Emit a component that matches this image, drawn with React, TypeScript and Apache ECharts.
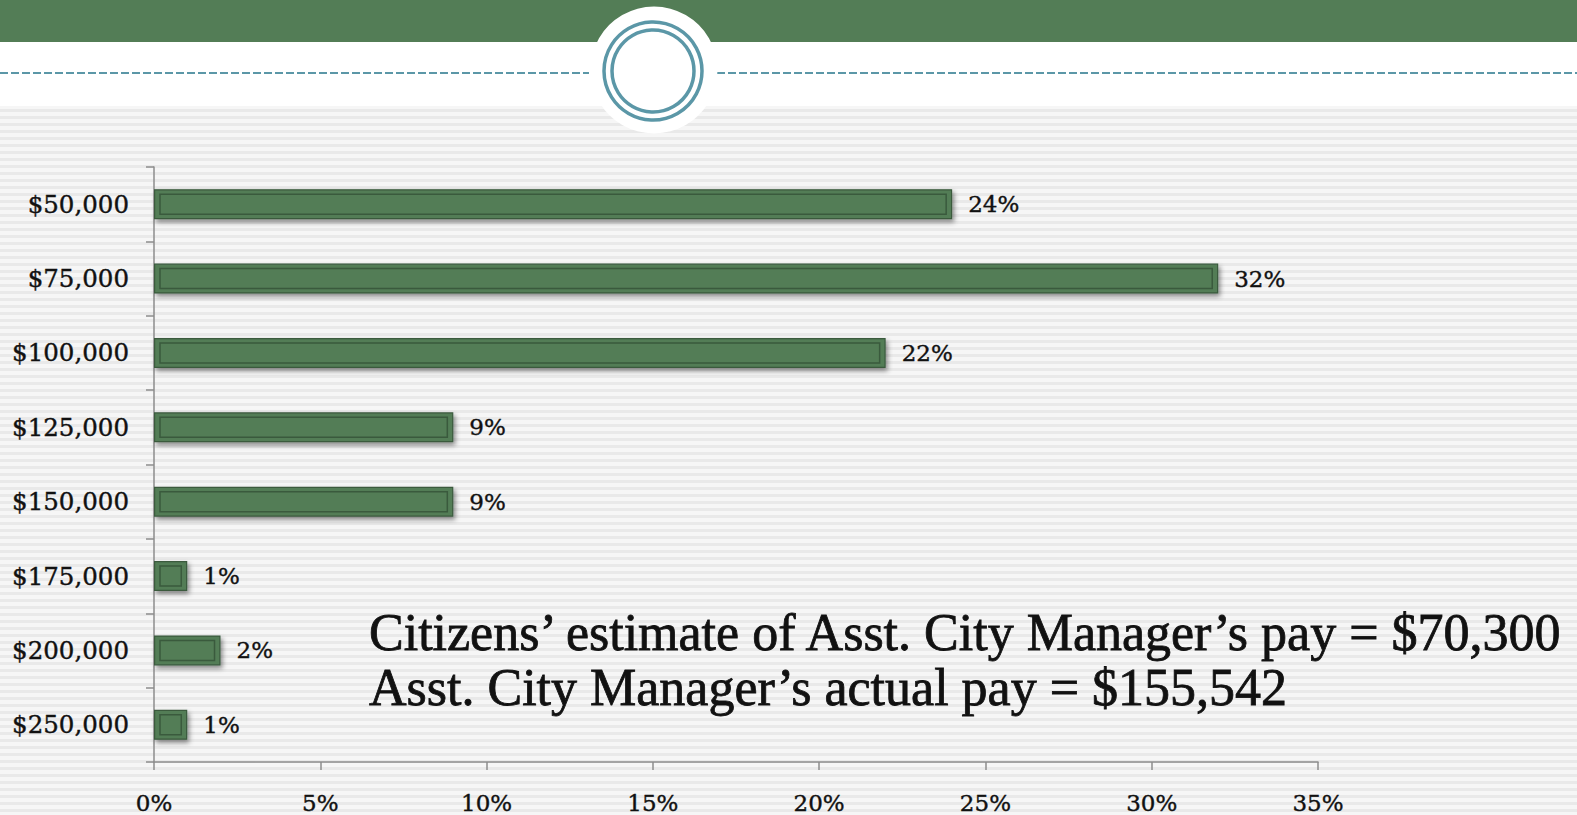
import React, { useEffect, useRef } from "react";
import * as echarts from "echarts";

const categories = ["$50,000", "$75,000", "$100,000", "$125,000", "$150,000", "$175,000", "$200,000", "$250,000"];
const values = [24, 32, 22, 9, 9, 1, 2, 1];
const xTicks = { min: 0, max: 35, interval: 5 };
const noteLines = [
  "Citizens\u2019 estimate of Asst. City Manager\u2019s pay = $70,300",
  "Asst. City Manager\u2019s actual pay = $155,542",
];

const W = 1577;
const H = 815;
const GREEN = "#537d56";
const DARK = "#3a5a3d";
const TEAL = "#5b97a7";
const AXIS = "#8c8c8c";
const SERIF = "'DejaVu Serif', serif";
const INK = "#111";

export default function App() {
  const ref = useRef<HTMLDivElement>(null);
  useEffect(() => {
    document.body.style.margin = "0";
    if (!ref.current) return;
    const chart = echarts.init(ref.current, undefined, { renderer: "svg" });
    const labelStyle = {
      color: INK,
      fontFamily: SERIF,
      textBorderColor: INK,
      textBorderWidth: 0.4,
    };
    const option: any = {
      animation: false,
      backgroundColor: "transparent",
      grid: { left: 154, right: W - 1318, top: 167, bottom: H - 762, containLabel: false },
      xAxis: {
        type: "value",
        min: xTicks.min,
        max: xTicks.max,
        interval: xTicks.interval,
        axisLine: { show: true, lineStyle: { color: AXIS, width: 1.5 } },
        axisTick: { show: true, length: 8, lineStyle: { color: AXIS, width: 1.5 } },
        splitLine: { show: false },
        axisLabel: { ...labelStyle, formatter: "{value}%", fontSize: 23, margin: 29 },
      },
      yAxis: {
        type: "category",
        data: categories,
        inverse: true,
        axisLine: { show: true, lineStyle: { color: AXIS, width: 1.5 } },
        axisTick: { show: true, length: 8, lineStyle: { color: AXIS, width: 1.5 } },
        axisLabel: { ...labelStyle, fontSize: 24.5, margin: 25 },
      },
      series: [
        {
          type: "bar",
          data: values,
          barWidth: 30,
          itemStyle: {
            color: GREEN,
            borderColor: DARK,
            borderWidth: 1.2,
            shadowColor: "rgba(0,0,0,0.45)",
            shadowBlur: 5,
            shadowOffsetX: 2,
            shadowOffsetY: 3,
          },
          label: {
            ...labelStyle,
            show: true,
            position: "right",
            distance: 16,
            formatter: "{c}%",
            fontSize: 23,
          },
          z: 2,
        },
        {
          type: "custom",
          data: values.map((v, i) => [v, i]),
          encode: { x: 0, y: 1 },
          z: 3,
          silent: true,
          renderItem: (params: any, api: any) => {
            const s = api.coord([0, api.value(1)]);
            const e = api.coord([api.value(0), api.value(1)]);
            return {
              type: "rect",
              shape: { x: s[0] + 6, y: s[1] - 10, width: Math.max(e[0] - s[0] - 12, 2), height: 20 },
              style: { fill: "none", stroke: DARK, lineWidth: 1.5 },
            };
          },
        },
      ],
      graphic: [
        { type: "rect", shape: { x: 0, y: 0, width: W, height: 42 }, style: { fill: GREEN }, z: 0 },
        { type: "rect", shape: { x: 0, y: 42, width: W, height: 64 }, style: { fill: "#ffffff" }, z: 0 },
        {
          type: "line",
          shape: { x1: 0, y1: 73, x2: 589, y2: 73 },
          style: { stroke: TEAL, lineWidth: 2, lineDash: [8, 3] },
          z: 1,
        },
        {
          type: "line",
          shape: { x1: 717, y1: 73, x2: W, y2: 73 },
          style: { stroke: TEAL, lineWidth: 2, lineDash: [8, 3] },
          z: 1,
        },
        { type: "circle", shape: { cx: 654, cy: 70, r: 63.5 }, style: { fill: "#ffffff" }, z: 2 },
        { type: "circle", shape: { cx: 653, cy: 71, r: 49 }, style: { fill: "none", stroke: TEAL, lineWidth: 3.5 }, z: 3 },
        { type: "circle", shape: { cx: 653, cy: 71, r: 41 }, style: { fill: "none", stroke: TEAL, lineWidth: 3.5 }, z: 3 },
        {
          type: "text",
          x: 369,
          y: 632,
          style: {
            text: noteLines[0],
            font: "52px 'Liberation Serif', serif",
            fill: INK,
            stroke: INK,
            lineWidth: 0.8,
            textVerticalAlign: "middle",
          },
          z: 5,
        },
        {
          type: "text",
          x: 369,
          y: 687,
          style: {
            text: noteLines[1],
            font: "52px 'Liberation Serif', serif",
            fill: INK,
            stroke: INK,
            lineWidth: 0.8,
            textVerticalAlign: "middle",
          },
          z: 5,
        },
      ],
    };
    chart.setOption(option);
    return () => chart.dispose();
  }, []);
  return (
    <div
      ref={ref}
      style={{
        width: W,
        height: H,
        background:
          "linear-gradient(#fff, #fff) top/100% 106px no-repeat, repeating-linear-gradient(180deg, #f6f6f6 0px, #f6f6f6 4px, #e9e9e9 4px, #e9e9e9 7px)",
      }}
    />
  );
}
